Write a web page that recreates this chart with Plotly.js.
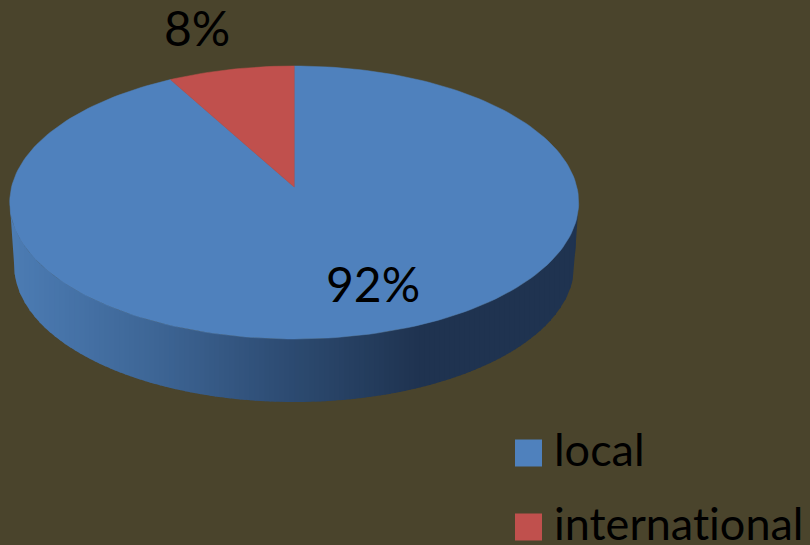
<!DOCTYPE html>
<html><head><meta charset="utf-8">
<script src="https://cdn.plot.ly/plotly-3.0.1.min.js"></script>
<style>html,body{margin:0;padding:0;background:#4A442C}#c{width:810px;height:545px}
svg text{font-variant-ligatures:none;font-feature-settings:"liga" 0}</style>
</head><body><div id="c"></div>
<script>
const categories = ["local", "international"];
const values = [92, 8];
const sliceColors = ["#4F81BD", "#C0504D"];
const shadeStops = [0, 0.25, 0.5, 0.72, 1];
const shadeRGB = [[76,124,180],[62,102,150],[44,74,112],[31,51,80],[31,51,80]];
const bg = "#4A442C";
const font = "Lato, Carlito, sans-serif";

const cx = 294.2, cyTop = 202.5, ry = 136.5, rxTop = 284.5, rxBot = 280, cyBot = 265.5;
const k = 15.5 / ry;
const a = rxTop * Math.sqrt(1 - k * k);
function proj(deg) {
  const t = deg * Math.PI / 180, u = Math.sin(t), v = Math.cos(t), w = 1 + k * v;
  return [cx + a * u / w, cyTop - (ry * v + 15.5) / w];
}
const traces = [];
function shade(f) {
  let i = 0;
  while (i < shadeStops.length - 2 && f > shadeStops[i + 1]) i++;
  const p = (f - shadeStops[i]) / (shadeStops[i + 1] - shadeStops[i]);
  const c = shadeRGB[i].map((s, j) => Math.round(s + (shadeRGB[i + 1][j] - s) * p));
  return `rgb(${c[0]},${c[1]},${c[2]})`;
}
function topEdge(x) {
  const d = (x - cx) / rxTop;
  return cyTop + ry * Math.sqrt(Math.max(0, 1 - d * d));
}
function bottomEdge(x) {
  const d = Math.abs(x - cx);
  if (d <= rxBot) return cyBot + ry * Math.sqrt(Math.max(0, 1 - (d / rxBot) * (d / rxBot)));
  return cyBot - (cyBot - cyTop) * (d - rxBot) / (rxTop - rxBot);
}
const stripW = 5, subSteps = 6, xMin = cx - rxTop, xMax = cx + rxTop;
for (let x0 = xMin; x0 < xMax; x0 += stripW) {
  const x1 = Math.min(xMax, x0 + stripW + 1);
  const xs = [], ys = [];
  for (let j = 0; j <= subSteps; j++) { const x = x0 + (x1 - x0) * j / subSteps; xs.push(x); ys.push(topEdge(x)); }
  for (let j = subSteps; j >= 0; j--) { const x = x0 + (x1 - x0) * j / subSteps; xs.push(x); ys.push(bottomEdge(x)); }
  xs.push(xs[0]); ys.push(ys[0]);
  const col = shade((x0 + stripW / 2 - xMin) / (xMax - xMin));
  traces.push({type: "scatter", mode: "lines", x: xs, y: ys, fill: "toself", fillcolor: col,
    line: {width: 0, color: col}, hoverinfo: "skip", showlegend: false});
}
const total = values.reduce((s, v) => s + v, 0);
let start = 0;
values.forEach((v, i) => {
  const end = start + v / total * 360, xs = [], ys = [];
  const cc = [cx, cyTop - 15.5];
  xs.push(cc[0]); ys.push(cc[1]);
  const n = Math.max(8, Math.round((end - start) / 1.5));
  for (let j = 0; j <= n; j++) {
    const p = proj(start + (end - start) * j / n);
    xs.push(p[0]); ys.push(p[1]);
  }
  xs.push(cc[0]); ys.push(cc[1]);
  traces.push({type: "scatter", mode: "lines", x: xs, y: ys, fill: "toself", fillcolor: sliceColors[i],
    line: {color: sliceColors[i], width: 0.5}, name: categories[i], hoverinfo: "name", showlegend: false});
  start = end;
});
// legend keys and labels
const legendY = [453, 527];
traces.push({type: "scatter", mode: "markers", x: [528.5, 528.5], y: legendY,
  marker: {symbol: "square", size: 27, color: sliceColors, line: {width: 0}},
  hoverinfo: "skip", showlegend: false, cliponaxis: false});
traces.push({type: "scatter", mode: "text", x: [554, 554], y: legendY.map(y => y + 2),
  text: categories, textposition: "middle right",
  textfont: {family: font, size: 45, color: "#000"}, hoverinfo: "skip", showlegend: false, cliponaxis: false});

const layout = {
  width: 810, height: 545, margin: {l: 0, r: 0, t: 0, b: 0},
  paper_bgcolor: bg, plot_bgcolor: bg, showlegend: false,
  xaxis: {range: [0, 810], visible: false, fixedrange: true},
  yaxis: {range: [545, 0], visible: false, fixedrange: true},
  annotations: [
    {x: 372.5, y: 283, text: Math.round(values[0] / total * 100) + "%"},
    {x: 197, y: 27, text: Math.round(values[1] / total * 100) + "%"}
  ].map(o => Object.assign(o, {xref: "x", yref: "y", showarrow: false, xanchor: "center", yanchor: "middle",
    font: {family: font, size: 48, color: "#000"}}))
};
Plotly.newPlot("c", traces, layout, {displayModeBar: false, staticPlot: true});
</script></body></html>
